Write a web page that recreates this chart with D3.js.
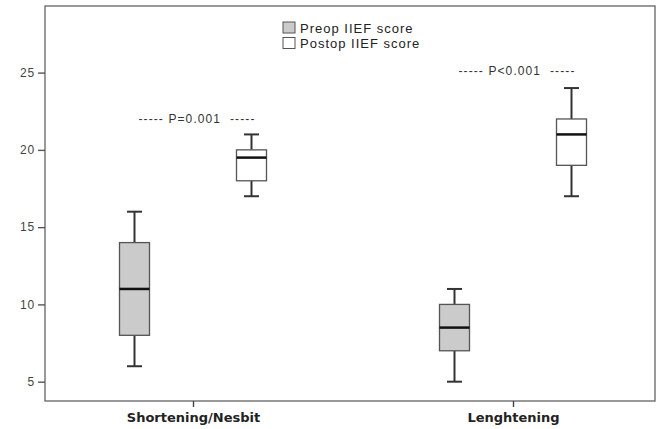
<!DOCTYPE html>
<html>
<head>
<meta charset="utf-8">
<script src="https://cdn.jsdelivr.net/npm/d3@7"></script>
<style>
  html, body { margin: 0; padding: 0; background: #fff; }
  svg { display: block; }
</style>
</head>
<body>
<svg id="chart" width="662" height="429"></svg>
<script>
// ---- data ----
const categories = ["Shortening/Nesbit", "Lenghtening"];
const series = ["Preop IIEF score", "Postop IIEF score"];
// [whiskerLow, q1, median, q3, whiskerHigh]
const preopStats  = [[6, 8, 11, 14, 16], [5, 7, 8.5, 10, 11]];
const postopStats = [[17, 18, 19.5, 20, 21], [17, 19, 21, 22, 24]];
const yTicks = [5, 10, 15, 20, 25];
const pLabels = ["----- P=0.001  -----", "----- P<0.001  -----"];
const pLabelValues = [21.75, 24.85];

// ---- layout ----
const svg = d3.select("#chart");
const plotLeft = 45, plotRight = 655, plotTop = 6, plotBottom = 401;
const y = d3.scaleLinear().domain([3.75, 29.31]).range([plotBottom, plotTop]);
const x0 = d3.scalePoint().domain(categories).range([plotLeft + 4, plotRight + 2]).padding(0.45);
const x1 = d3.scalePoint().domain(series).range([-58.5, 58.5]);
const fills = { "Preop IIEF score": "#cbcbcb", "Postop IIEF score": "#ffffff" };
const boxW = 30, capW = 15;

// frame
svg.append("rect")
  .attr("x", plotLeft).attr("y", plotTop)
  .attr("width", plotRight - plotLeft).attr("height", plotBottom - plotTop)
  .attr("fill", "none").attr("stroke", "#6e6e6e").attr("stroke-width", 1.4);

// y axis
const yAxis = d3.axisLeft(y).tickValues(yTicks).tickSize(7).tickPadding(3);
const gy = svg.append("g").attr("transform", `translate(${plotLeft},0)`).call(yAxis);
gy.select(".domain").remove();
gy.selectAll(".tick line").attr("stroke", "#555").attr("stroke-width", 1.4);
gy.selectAll(".tick text")
  .attr("fill", "#444")
  .style("font-family", "'Liberation Sans', Arial, sans-serif")
  .style("font-size", "12px")
  .style("letter-spacing", "0.8px");

// x axis
const xAxis = d3.axisBottom(x0).tickSize(6).tickPadding(6);
const gx = svg.append("g").attr("transform", `translate(0,${plotBottom})`).call(xAxis);
gx.select(".domain").remove();
gx.selectAll(".tick line").attr("stroke", "#444").attr("stroke-width", 1.4);
gx.selectAll(".tick text")
  .attr("fill", "#222")
  .attr("dy", "0.72em")
  .style("font-family", "'DejaVu Sans', sans-serif")
  .style("font-weight", "bold")
  .style("font-size", "13px");

// boxes
const boxes = [];
categories.forEach((c, i) => {
  boxes.push({ cat: c, ser: series[0], s: preopStats[i] });
  boxes.push({ cat: c, ser: series[1], s: postopStats[i] });
});

const g = svg.append("g");
boxes.forEach(b => {
  const cx = x0(b.cat) + x1(b.ser);
  const [lo, q1, med, q3, hi] = b.s;
  const bg = g.append("g");
  // whiskers
  bg.append("line").attr("x1", cx).attr("x2", cx).attr("y1", y(hi)).attr("y2", y(q3))
    .attr("stroke", "#333").attr("stroke-width", 2);
  bg.append("line").attr("x1", cx).attr("x2", cx).attr("y1", y(q1)).attr("y2", y(lo))
    .attr("stroke", "#333").attr("stroke-width", 2);
  bg.append("line").attr("x1", cx - capW / 2).attr("x2", cx + capW / 2).attr("y1", y(hi)).attr("y2", y(hi))
    .attr("stroke", "#333").attr("stroke-width", 2);
  bg.append("line").attr("x1", cx - capW / 2).attr("x2", cx + capW / 2).attr("y1", y(lo)).attr("y2", y(lo))
    .attr("stroke", "#333").attr("stroke-width", 2);
  // box
  bg.append("rect").attr("x", cx - boxW / 2).attr("y", y(q3))
    .attr("width", boxW).attr("height", y(q1) - y(q3))
    .attr("fill", fills[b.ser]).attr("stroke", "#555").attr("stroke-width", 1.3);
  // median
  bg.append("line").attr("x1", cx - boxW / 2).attr("x2", cx + boxW / 2).attr("y1", y(med)).attr("y2", y(med))
    .attr("stroke", "#111").attr("stroke-width", 2.5);
});

// p-value annotations
categories.forEach((c, i) => {
  svg.append("text")
    .attr("x", x0(c) + 4).attr("y", y(pLabelValues[i]))
    .attr("text-anchor", "middle")
    .attr("fill", "#333")
    .style("font-family", "'Liberation Sans', Arial, sans-serif")
    .style("font-size", "12px")
    .style("letter-spacing", "1.1px")
    .style("white-space", "pre")
    .text(pLabels[i]);
});

// legend
const legend = svg.append("g").attr("transform", "translate(283,22)");
series.forEach((s, i) => {
  const row = legend.append("g").attr("transform", `translate(0,${i * 15.5})`);
  row.append("rect").attr("x", 0).attr("y", 0).attr("width", 12).attr("height", 11)
    .attr("fill", fills[s]).attr("stroke", "#555").attr("stroke-width", 1);
  row.append("text").attr("x", 17).attr("y", 10.5)
    .attr("fill", "#222")
    .style("font-family", "'Liberation Sans', Arial, sans-serif")
    .style("font-size", "13px")
    .style("letter-spacing", "1px")
    .text(s);
});
</script>
</body>
</html>
